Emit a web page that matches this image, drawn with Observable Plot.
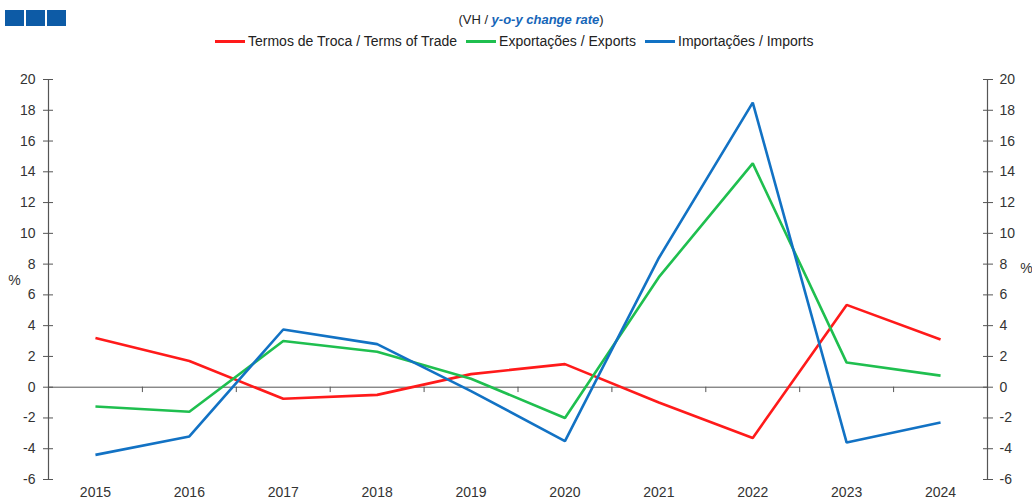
<!DOCTYPE html>
<html>
<head>
<meta charset="utf-8">
<script src="https://cdn.jsdelivr.net/npm/d3@7"></script>
<script src="https://cdn.jsdelivr.net/npm/@observablehq/plot@0.6"></script>
<style>
  html, body { margin: 0; padding: 0; background: #fff; }
  body { font-family: "Liberation Sans", Arial, sans-serif; }
  #wrap { position: relative; width: 1032px; height: 502px; overflow: hidden; }
  #header { position: relative; width: 1032px; height: 56px; }
  .sq { position: absolute; top: 10px; width: 19px; height: 16px; background: #0d5ba6; }
  #sub { position: absolute; top: 12px; left: 0; width: 1062px; text-align: center; font-size: 13px; color: #222; }
  #sub b { color: #1565b8; font-style: italic; }
  #legend { position: absolute; top: 33px; left: 215px; font-size: 14px; color: #222; white-space: nowrap; display: flex; align-items: center; }
  .item { display: flex; align-items: center; margin-right: 9px; }
  .sw { display: inline-block; width: 30px; height: 3px; margin-right: 3px; }
</style>
</head>
<body>
<div id="wrap">
  <div id="header">
    <div class="sq" style="left:5px"></div>
    <div class="sq" style="left:26px"></div>
    <div class="sq" style="left:47px"></div>
    <div id="sub">(VH / <b>y-o-y change rate</b>)</div>
    <div id="legend"></div>
  </div>
  <div id="chart"></div>
</div>
<script>
const years = [2015, 2016, 2017, 2018, 2019, 2020, 2021, 2022, 2023, 2024];
const termsOfTrade = [3.2, 1.7, -0.75, -0.5, 0.85, 1.5, -1.0, -3.3, 5.35, 3.1];
const exportsVH = [-1.25, -1.6, 3.0, 2.3, 0.55, -2.0, 7.15, 14.55, 1.6, 0.75];
const importsVH = [-4.4, -3.2, 3.75, 2.8, -0.25, -3.5, 8.4, 18.5, -3.6, -2.3];
const seriesNames = ["Termos de Troca / Terms of Trade", "Exportações / Exports", "Importações / Imports"];
const seriesColors = ["#ff1a1a", "#1fbf4f", "#1272c4"];
const yTicks = [-6, -4, -2, 0, 2, 4, 6, 8, 10, 12, 14, 16, 18, 20];
const boundaries = years.slice(0, -1).map(y => y + 0.5);

const allSeries = [termsOfTrade, exportsVH, importsVH];
const data = [];
allSeries.forEach((vals, i) => {
  vals.forEach((v, j) => data.push({year: years[j], value: v, series: seriesNames[i]}));
});

// legend
const legend = document.getElementById("legend");
seriesNames.forEach((n, i) => {
  const it = document.createElement("div");
  it.className = "item";
  it.innerHTML = `<span class="sw" style="background:${seriesColors[i]}"></span><span>${n}</span>`;
  legend.appendChild(it);
});

const axisColor = "#555";
const chart = Plot.plot({
  width: 1032,
  height: 446,
  marginLeft: 48,
  marginRight: 45,
  marginTop: 23,
  marginBottom: 23,
  style: {fontFamily: "'Liberation Sans', Arial, sans-serif", fontSize: "14px", color: "#333", background: "#fff"},
  x: {domain: [2014.5, 2024.5], axis: null, label: null},
  y: {domain: [-6, 20], axis: null, label: null},
  color: {domain: seriesNames, range: seriesColors},
  marks: [
    Plot.ruleY([0], {stroke: axisColor, strokeWidth: 1}),
    Plot.ruleX(boundaries, {x: d => d, y1: 0, y2: -0.35, stroke: axisColor, strokeWidth: 1}),
    Plot.ruleX([2014.5, 2024.5], {stroke: axisColor, strokeWidth: 1.2}),
    Plot.axisY({anchor: "left", label: null, ticks: yTicks, tickSize: 10, dx: 5, tickPadding: 8, stroke: axisColor, strokeWidth: 1, tickFormat: d => String(d), fill: "#333", fontSize: 14}),
    Plot.axisY({anchor: "right", label: null, ticks: yTicks, tickSize: 10, dx: -5, tickPadding: 7, stroke: axisColor, strokeWidth: 1, tickFormat: d => String(d), fill: "#333", fontSize: 14}),
    Plot.axisX({anchor: "bottom", label: null, ticks: years, tickSize: 0, tickPadding: 8, tickFormat: d => String(d), fill: "#333", fontSize: 14}),
    Plot.text(["%"], {frameAnchor: "left", textAnchor: "middle", dx: -34, dy: 1, text: d => d, fill: "#333", fontSize: 14}),
    Plot.text(["%"], {frameAnchor: "right", textAnchor: "middle", dx: 39, dy: -11, text: d => d, fill: "#333", fontSize: 14}),
    Plot.line(data, {x: "year", y: "value", z: "series", stroke: "series", strokeWidth: 2.6, strokeLinejoin: "miter", strokeLinecap: "butt"})
  ]
});
document.getElementById("chart").appendChild(chart);
</script>
</body>
</html>
